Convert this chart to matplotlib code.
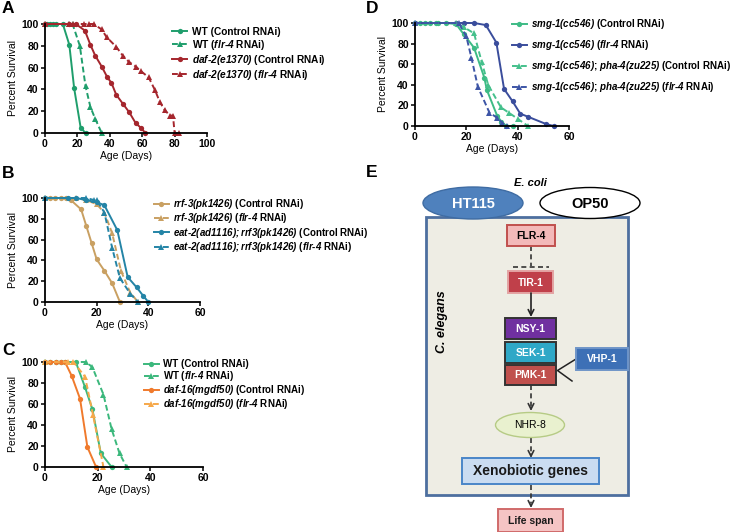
import matplotlib
matplotlib.use("Agg")
import matplotlib.pyplot as plt
from matplotlib.patches import Rectangle, Ellipse

# ------------------------------------------------------------
# Survival data (day, percent survival)
# ------------------------------------------------------------

# Panel A
a_wt_ctrl_day = [0, 1, 3, 5, 7, 11, 15, 18, 22, 25]
a_wt_ctrl_surv = [100, 100, 100, 100, 100, 100, 81, 41, 5, 0]
a_wt_flr4_day = [0, 15, 17, 21.5, 25, 28, 31, 35]
a_wt_flr4_surv = [100, 100, 100, 80, 43, 24, 13, 0]
a_daf2_ctrl_day = [0, 15, 19, 24.6, 28, 31, 35, 38.5, 41, 44, 48, 52, 56, 59, 62]
a_daf2_ctrl_surv = [100, 100, 100, 94, 81, 71, 61, 51, 46, 35, 27, 19, 9, 5, 0]
a_daf2_flr4_day = [0, 15, 17, 24, 27, 30, 35, 38, 44, 48, 52, 56, 59, 64, 68, 71, 74, 77, 79, 80, 83]
a_daf2_flr4_surv = [100, 100, 100, 100, 100, 100, 95, 88, 79, 71, 65, 61, 57, 51, 39, 28, 21, 16, 16, 0, 0]

# Panel B
b_rrf3_ctrl_day = [0, 2, 4, 6, 8, 10, 14, 16, 18, 20, 23, 26, 29]
b_rrf3_ctrl_surv = [100, 100, 100, 100, 100, 98, 89, 73, 57, 41, 30, 18, 0]
b_rrf3_flr4_day = [0, 12, 16, 20, 23, 26, 29.4, 33, 36]
b_rrf3_flr4_surv = [100, 100, 98, 94, 86, 66, 30, 9, 0]
b_eat2_ctrl_day = [0, 9, 12, 16, 20, 23, 28, 32, 35.5, 38, 40]
b_eat2_ctrl_surv = [100, 100, 100, 98, 96, 93, 69, 24, 14, 6, 0]
b_eat2_flr4_day = [0, 16, 19, 20, 23, 26, 29, 33, 36]
b_eat2_flr4_surv = [100, 100, 98, 98, 86, 52, 23, 8, 0]

# Panel C
c_wt_ctrl_day = [0, 2, 4, 6, 7.5, 11.7, 15.2, 18, 21.2, 25.3]
c_wt_ctrl_surv = [100, 100, 100, 100, 100, 100, 76, 55, 13, 0]
c_wt_flr4_day = [0, 15.6, 18, 22.2, 25.3, 28.3, 31]
c_wt_flr4_surv = [100, 100, 95, 69, 36, 13, 0]
c_daf16_ctrl_day = [0, 2, 4, 6, 7.6, 10.1, 13.3, 16.1, 19.4]
c_daf16_ctrl_surv = [100, 100, 100, 100, 100, 87, 65, 19, 0]
c_daf16_flr4_day = [0, 8.9, 10.8, 15.2, 18.2, 22.2]
c_daf16_flr4_surv = [100, 100, 100, 86, 50, 0]

# Panel D
d_smg1_ctrl_day = [0, 2, 4, 6, 8, 9, 12, 16, 19, 23, 27, 28, 32, 33.7, 35.6, 38]
d_smg1_ctrl_surv = [100, 100, 100, 100, 100, 100, 100, 99, 89, 76, 47, 35, 10, 4, 0, 0]
d_smg1_flr4_day = [0, 16, 19, 23, 27.6, 31.7, 34.7, 38, 41, 44, 51, 54]
d_smg1_flr4_surv = [100, 100, 100, 100, 98, 81, 36, 24, 12, 9, 2, 0]
d_pha4_ctrl_day = [0, 16, 19, 23, 26, 28.5, 33.5, 36.5, 40, 44]
d_pha4_ctrl_surv = [100, 100, 96, 90, 62, 40, 18, 13, 7, 0]
d_pha4_flr4_day = [0, 17, 20, 22, 24.5, 29, 32, 34, 36]
d_pha4_flr4_surv = [100, 100, 87, 66, 38, 13, 8, 3, 0]

# legend labels
a_labels = ["WT (Control RNAi)",
            r"WT ($\mathit{flr}$-$\mathit{4}$ RNAi)",
            r"$\mathit{daf}$-$\mathit{2(e1370)}$ (Control RNAi)",
            r"$\mathit{daf}$-$\mathit{2(e1370)}$ ($\mathit{flr}$-$\mathit{4}$ RNAi)"]
b_labels = [r"$\mathit{rrf}$-$\mathit{3(pk1426)}$ (Control RNAi)",
            r"$\mathit{rrf}$-$\mathit{3(pk1426)}$ ($\mathit{flr}$-$\mathit{4}$ RNAi)",
            r"$\mathit{eat}$-$\mathit{2(ad1116);rrf3(pk1426)}$ (Control RNAi)",
            r"$\mathit{eat}$-$\mathit{2(ad1116);rrf3(pk1426)}$ ($\mathit{flr}$-$\mathit{4}$ RNAi)"]
c_labels = ["WT (Control RNAi)",
            r"WT ($\mathit{flr}$-$\mathit{4}$ RNAi)",
            r"$\mathit{daf}$-$\mathit{16(mgdf50)}$ (Control RNAi)",
            r"$\mathit{daf}$-$\mathit{16(mgdf50)}$ ($\mathit{flr}$-$\mathit{4}$ RNAi)"]
d_labels = [r"$\mathit{smg}$-$\mathit{1(cc546)}$ (Control RNAi)",
            r"$\mathit{smg}$-$\mathit{1(cc546)}$ ($\mathit{flr}$-$\mathit{4}$ RNAi)",
            r"$\mathit{smg}$-$\mathit{1(cc546)}$; $\mathit{pha}$-$\mathit{4(zu225)}$ (Control RNAi)",
            r"$\mathit{smg}$-$\mathit{1(cc546)}$; $\mathit{pha}$-$\mathit{4(zu225)}$ ($\mathit{flr}$-$\mathit{4}$ RNAi)"]

# ------------------------------------------------------------
# Style
# ------------------------------------------------------------
plt.rcParams["font.family"] = ["Liberation Sans", "DejaVu Sans"]
plt.rcParams["mathtext.fontset"] = "custom"
# gene names: everything inside $...$ is bold italic (digits too)
plt.rcParams["mathtext.it"] = "Liberation Sans:italic:bold"
plt.rcParams["mathtext.rm"] = "Liberation Sans:italic:bold"
plt.rcParams["mathtext.bf"] = "Liberation Sans:italic:bold"

W, H = 732, 532
fig = plt.figure(figsize=(W / 100, H / 100), dpi=100)


def px_axes(x0, y0, x1, y1):
    return fig.add_axes([x0 / W, 1 - y1 / H, (x1 - x0) / W, (y1 - y0) / H])


def style_axes(ax, xmax, xstep, box):
    x0, y0, x1, y1 = box
    ax.set_xlim(0, xmax)
    ax.set_ylim(0, 100)
    ax.set_xticks(range(0, xmax + 1, xstep))
    ax.set_yticks(range(0, 101, 20))
    for s in ["top", "right"]:
        ax.spines[s].set_visible(False)
    for s in ["left", "bottom"]:
        ax.spines[s].set_linewidth(1.3)
    ax.tick_params(direction="out", length=3, width=1.1, pad=1.5, labelsize=7.5)
    for lab in ax.get_xticklabels() + ax.get_yticklabels():
        lab.set_fontweight("bold")
    ax.set_xlabel("Age (Days)", fontsize=7.5)
    ax.set_ylabel("Percent Survival", fontsize=7.5)
    ax.yaxis.set_label_coords(-27 / (x1 - x0), 0.5)
    ax.xaxis.set_label_coords(0.5, -18 / (y1 - y0))


def curve(ax, d, s, color, dashed, tri, label):
    ax.plot(d, s, color=color, lw=1.4,
            ls=(0, (3, 1.6)) if dashed else "-",
            marker="^" if tri else "o", ms=4.2 if tri else 3.8,
            markeredgewidth=0, label=label, clip_on=False)


def legend_at(ax, x, y, spacing, size=7):
    ax.legend(loc="upper left", bbox_to_anchor=(x / W, 1 - y / H),
              bbox_transform=fig.transFigure, frameon=False, borderpad=0,
              borderaxespad=0, handlelength=1.5, handletextpad=0.5,
              labelspacing=spacing, prop={"weight": "bold", "size": size})


# Panel A
box_a = (45, 24, 207, 133)
ax = px_axes(*box_a)
curve(ax, a_wt_ctrl_day, a_wt_ctrl_surv, "#1f9e6c", False, False, a_labels[0])
curve(ax, a_wt_flr4_day, a_wt_flr4_surv, "#1f9e6c", True, True, a_labels[1])
curve(ax, a_daf2_ctrl_day, a_daf2_ctrl_surv, "#a5262d", False, False, a_labels[2])
curve(ax, a_daf2_flr4_day, a_daf2_flr4_surv, "#a5262d", True, True, a_labels[3])
style_axes(ax, 100, 20, box_a)
legend_at(ax, 172, 27, 0.1, size=7.3)

# Panel B
box_b = (45, 198, 200, 302)
ax = px_axes(*box_b)
curve(ax, b_rrf3_ctrl_day, b_rrf3_ctrl_surv, "#c9a062", False, False, b_labels[0])
curve(ax, b_rrf3_flr4_day, b_rrf3_flr4_surv, "#c9a062", True, True, b_labels[1])
curve(ax, b_eat2_ctrl_day, b_eat2_ctrl_surv, "#2484a6", False, False, b_labels[2])
curve(ax, b_eat2_flr4_day, b_eat2_flr4_surv, "#2484a6", True, True, b_labels[3])
style_axes(ax, 60, 20, box_b)
legend_at(ax, 154, 197, 0.04)

# Panel C
box_c = (45, 362, 203, 467)
ax = px_axes(*box_c)
curve(ax, c_wt_ctrl_day, c_wt_ctrl_surv, "#3bb87c", False, False, c_labels[0])
curve(ax, c_wt_flr4_day, c_wt_flr4_surv, "#3bb87c", True, True, c_labels[1])
curve(ax, c_daf16_ctrl_day, c_daf16_ctrl_surv, "#f07a2c", False, False, c_labels[2])
curve(ax, c_daf16_flr4_day, c_daf16_flr4_surv, "#f6a84a", True, True, c_labels[3])
style_axes(ax, 60, 20, box_c)
legend_at(ax, 144, 359, 0.0)

# Panel D
box_d = (415, 23, 569, 126)
ax = px_axes(*box_d)
curve(ax, d_smg1_ctrl_day, d_smg1_ctrl_surv, "#3dbb85", False, False, d_labels[0])
curve(ax, d_smg1_flr4_day, d_smg1_flr4_surv, "#3a4d9c", False, False, d_labels[1])
curve(ax, d_pha4_ctrl_day, d_pha4_ctrl_surv, "#45c08c", True, True, d_labels[2])
curve(ax, d_pha4_flr4_day, d_pha4_flr4_surv, "#3d55a6", True, True, d_labels[3])
style_axes(ax, 60, 20, box_d)
legend_at(ax, 512, 17, 0.72, size=7)

# panel letters
for letter, (lx, ly) in {"A": (2, 1), "B": (2, 166), "C": (2, 343),
                         "D": (366, 1), "E": (366, 165)}.items():
    fig.text(lx / W, 1 - ly / H, letter, fontsize=12.5, fontweight="bold",
             ha="left", va="top")

# ------------------------------------------------------------
# Panel E: pathway diagram (drawn in pixel coordinates)
# ------------------------------------------------------------
ov = fig.add_axes([370 / W, 0, 362 / W, 372 / H])
ov.set_xlim(370, 732)
ov.set_ylim(532, 160)
ov.set_facecolor("none")
ov.axis("off")

cx = 531

ov.add_patch(Rectangle((426, 217), 202, 278, facecolor="#eeede4",
                       edgecolor="#4d6f9f", lw=2, zorder=1))
ov.add_patch(Ellipse((473, 203), 100, 32, facecolor="#4f81bd",
                     edgecolor="#3f6ca3", lw=1, zorder=3))
ov.add_patch(Ellipse((590, 203), 100, 31, facecolor="white",
                     edgecolor="black", lw=1, zorder=3))
ov.text(473, 204, "HT115", color="white", fontsize=10.5, fontweight="bold",
        ha="center", va="center", zorder=4)
ov.text(590, 204, "OP50", color="black", fontsize=10.5, fontweight="bold",
        ha="center", va="center", zorder=4)
ov.text(530, 183, "E. coli", fontsize=8, fontweight="bold", style="italic",
        ha="center", va="center")
ov.text(442, 322, "C. elegans", fontsize=9, fontweight="bold", style="italic",
        rotation=90, ha="center", va="center")

boxes = [
    # x, y, w, h, face, edge, text colour, label, size
    (507, 225, 48, 21, "#f3b9b9", "#c0504d", "black", "FLR-4", 7.5),
    (508, 271, 45, 22, "#c0404a", "#e3a3a3", "white", "TIR-1", 7.5),
    (505, 318, 51, 21, "#7030a0", "#333333", "white", "NSY-1", 7.5),
    (505, 342, 51, 21, "#2fa8c7", "#333333", "white", "SEK-1", 7.5),
    (505, 365, 51, 20, "#c0504d", "#333333", "white", "PMK-1", 7.5),
    (576, 348, 52, 22, "#3d70b6", "#6f95c8", "white", "VHP-1", 7.5),
    (462, 458, 137, 26, "#cadcf1", "#4a86c8", "#1a1a1a", "Xenobiotic genes", 10),
    (498, 509, 65, 22.5, "#f5c4c4", "#d06a6a", "#1a1a1a", "Life span", 7.5),
]
for x, y, w, h, fc, ec, tc, lab, fs in boxes:
    ov.add_patch(Rectangle((x, y), w, h, facecolor=fc, edgecolor=ec,
                           lw=1.4, zorder=3))
    ov.text(x + w / 2, y + h / 2 + 0.5, lab, color=tc, fontsize=fs,
            fontweight="bold", ha="center", va="center", zorder=4)

ov.add_patch(Ellipse((530, 425), 69, 25, facecolor="#e9f1cf",
                     edgecolor="#b6cb85", lw=1, zorder=3))
ov.text(530, 425.5, "NHR-8", fontsize=7.5, ha="center", va="center", zorder=4)

# FLR-4 -| TIR-1 (dashed)
ov.plot([cx, cx], [246, 266], color="#333333", lw=1.2, ls=(0, (3, 2)))
ov.plot([513, 549], [267, 267], color="#333333", lw=1.2, ls=(0, (3, 2)))

# TIR-1 -> NSY-1
ov.annotate("", xy=(cx, 317), xytext=(cx, 293),
            arrowprops=dict(arrowstyle="->", lw=1.2, color="#222222",
                            mutation_scale=10, shrinkA=0, shrinkB=0))

# dashed arrows down the pathway
for y_start, y_end in [(385, 411), (437.5, 458), (484.5, 508)]:
    ov.plot([cx, cx], [y_start, y_end - 5], color="#333333", lw=1.2,
            ls=(0, (3, 2)))
    ov.annotate("", xy=(cx, y_end), xytext=(cx, y_end - 4),
                arrowprops=dict(arrowstyle="->", lw=1.2, color="#333333",
                                mutation_scale=10, shrinkA=0, shrinkB=0))

# VHP-1 inhibits PMK-1
ov.plot([576, 557.5, 572], [359, 370.5, 381], color="#222222", lw=1.1)

fig.savefig("out.png", dpi=100)
